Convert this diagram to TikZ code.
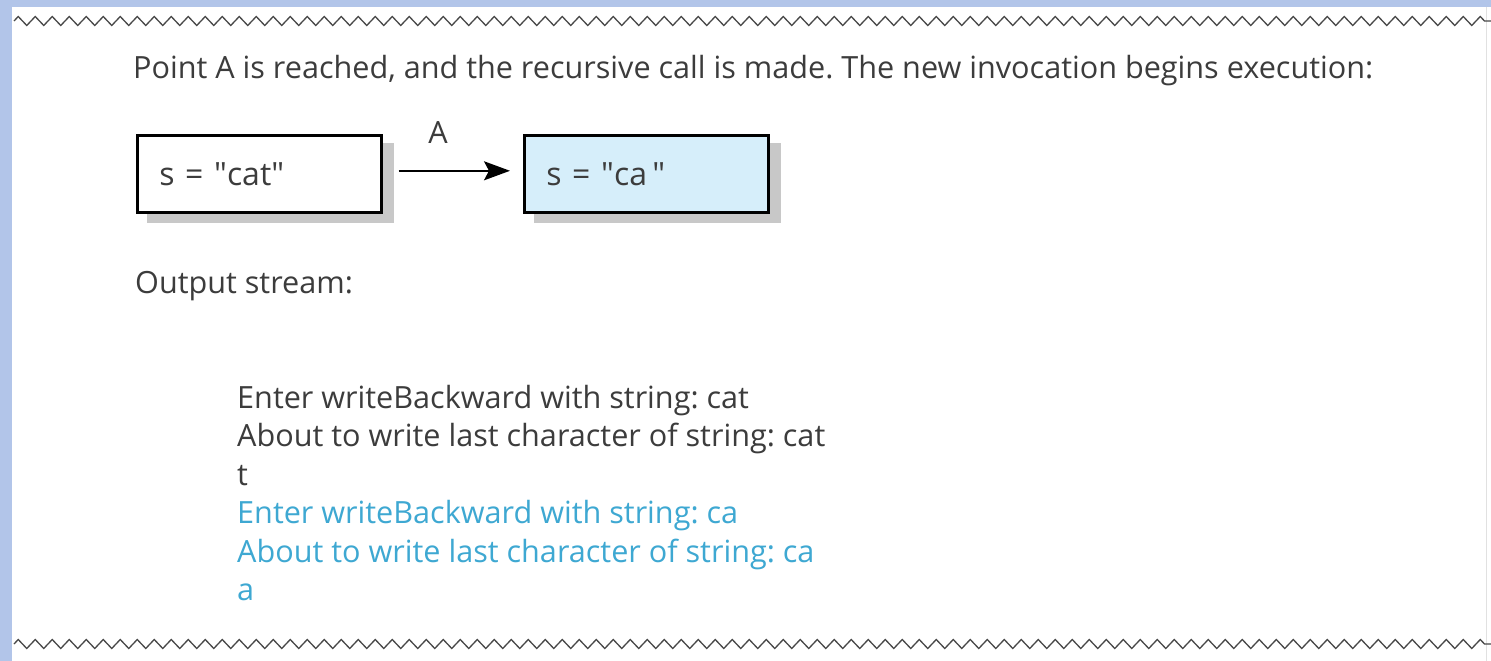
\documentclass[tikz,border=0pt]{standalone}
\usepackage{fontspec}
\setmainfont{Open Sans}
\usetikzlibrary{arrows.meta,decorations.pathmorphing,backgrounds}

\definecolor{slide}{RGB}{178,197,233}
\definecolor{ink}{RGB}{60,60,60}
\definecolor{callblue}{RGB}{62,168,210}
\definecolor{framefill}{RGB}{214,238,250}
\definecolor{shadowgray}{RGB}{200,200,200}
\definecolor{tear}{RGB}{72,72,72}
\definecolor{edgegray}{RGB}{225,225,225}

\frenchspacing
\begin{document}
\begin{tikzpicture}[x=1pt,y=-1pt,
  txt/.style={anchor=base west, inner sep=0pt, text=ink,
              font=\fontsize{30.6}{36}\selectfont},
  bluetxt/.style={txt, text=callblue},
  frame/.style={draw=black, line width=2.6pt, anchor=north west,
                minimum height=77pt, text width=200pt, inner xsep=22pt,
                inner ysep=0pt, align=left, text=ink,
                font=\fontsize{32}{38}\selectfont},
  tornedge/.style={draw=tear, line width=1.3pt,
                   decorate, decoration={zigzag, segment length=17pt, amplitude=4.5pt}},
  callarrow/.style={-{Stealth[length=26pt,width=19pt,inset=5pt]}, line width=1.8pt,
                    shorten <=16pt, shorten >=13pt}
]
  \useasboundingbox (0,0) rectangle (1491,661);

  % caption
  \node[txt] (caption) at (133,78)
    {Point A is reached, and the recursive call is made. The new invocation begins execution:};

  % activation frames
  \node[frame, fill=white] (f1) at (136,134) {s = \textquotedbl cat\textquotedbl};
  \node[frame, fill=framefill] (f2) at (523,134) {s = \textquotedbl ca\,\textquotedbl};

  % page background, white panel and frame shadows
  \begin{pgfonlayer}{background}
    \fill[slide] (0,0) rectangle (1491,661);
    \fill[white] (12,7) rectangle (1491,661);
    \draw[edgegray, line width=1pt] (1486,7) -- (1486,661);
    \foreach \f in {f1,f2}
      \fill[shadowgray] ([shift={(11,9)}]\f.south west) rectangle ([shift={(11,9)}]\f.north east);
  \end{pgfonlayer}

  % torn edges above and below the excerpt
  \draw[tornedge] (14,21) -- (1491,21);
  \draw[tornedge] (14,644) -- (1491,644);

  % recursive call
  \draw[callarrow] ([yshift=3pt]f1.east) -- ([yshift=3pt]f2.west);
  \node[txt, anchor=base] (lblA) at (438,143) {A};

  % output stream
  \node[txt] (outhead) at (135,293) {Output stream:};
  \node[txt] (o1) at (237,408) {Enter writeBackward with string: cat};
  \node[txt] (o2) at (237,446.5) {About to write last character of string: cat};
  \node[txt] (o3) at (237,485) {t};
  \node[bluetxt] (o4) at (237,523.5) {Enter writeBackward with string: ca};
  \node[bluetxt] (o5) at (237,562) {About to write last character of string: ca};
  \node[bluetxt] (o6) at (237,600.5) {a};
\end{tikzpicture}
\end{document}
